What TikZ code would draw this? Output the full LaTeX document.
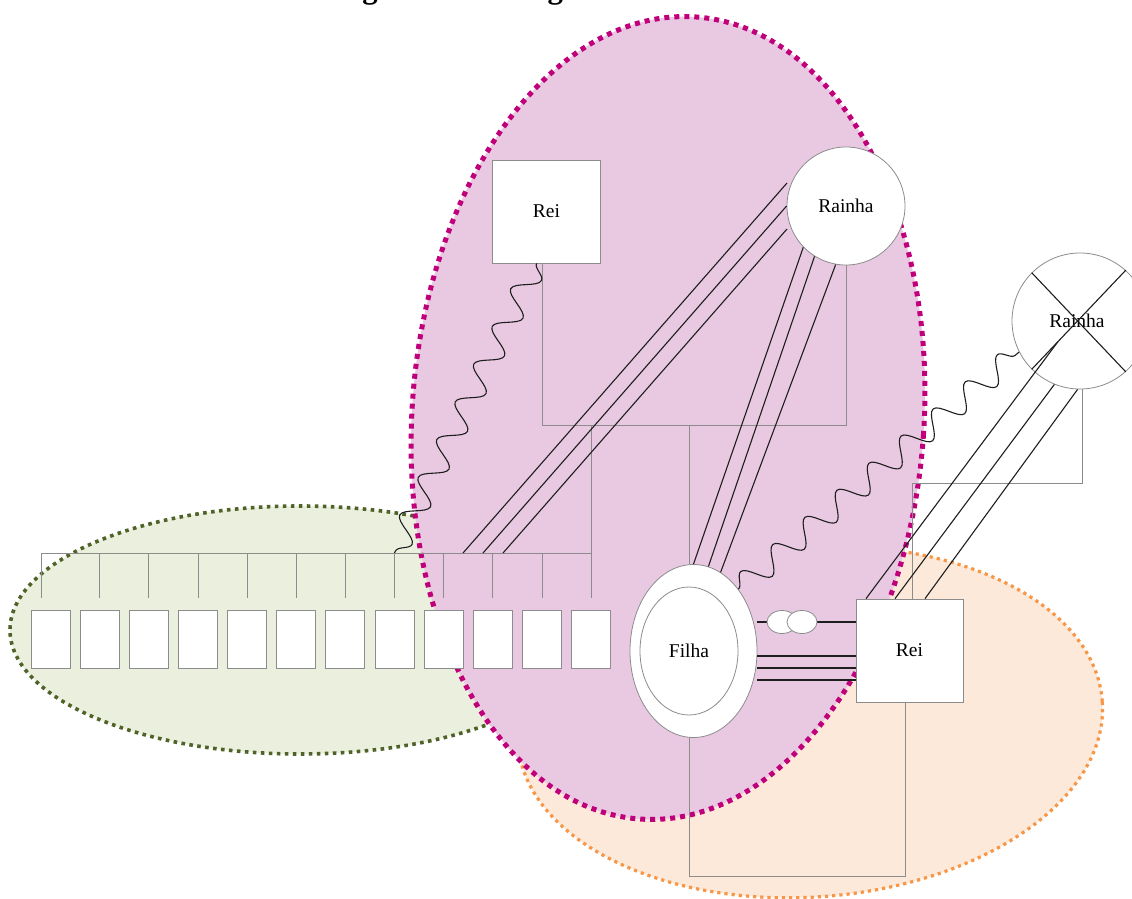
\documentclass[tikz,border=0pt]{standalone}
\usepackage{fontspec}
\setmainfont{Liberation Serif}
\usetikzlibrary{decorations.pathmorphing,shapes.geometric,calc}
\definecolor{pinkfill}{RGB}{232,201,225}
\definecolor{pinkline}{RGB}{192,0,122}
\definecolor{greenfill}{RGB}{235,240,222}
\definecolor{greenline}{RGB}{79,98,40}
\definecolor{orangefill}{RGB}{253,233,217}
\definecolor{orangeline}{RGB}{247,150,70}
\definecolor{linkgray}{RGB}{140,140,140}
\definecolor{tieblack}{RGB}{30,30,30}
\begin{document}
\begin{tikzpicture}[x=1pt,y=-1pt,
  lbl/.style={font=\fontsize{19.5}{23}\selectfont},
  malebox/.style={draw=linkgray, fill=white, line width=0.8pt, inner sep=0pt,
    minimum width=108pt, minimum height=103pt, lbl},
  femcircle/.style={draw=linkgray, fill=white, line width=0.8pt, circle,
    inner sep=0pt, minimum size=118pt, lbl},
  kidbox/.style={draw=linkgray, fill=white, line width=0.8pt, inner sep=0pt,
    minimum width=39pt, minimum height=58pt},
  twin/.style={draw=linkgray, fill=white, line width=0.8pt, ellipse,
    inner sep=0pt, minimum width=30pt, minimum height=23pt},
  kin/.style={draw=linkgray, line width=0.8pt},
  tie/.style={draw=tieblack, line width=1.1pt},
  conflict/.style={draw=tieblack, line width=1.1pt, decorate,
    decoration={snake, segment length=42pt, amplitude=12pt}},
  zone/.style={line cap=butt},
]
\useasboundingbox (0,0) rectangle (1132,899);

% heading line of the page
\node[anchor=base west, inner sep=0pt, font=\bfseries\fontsize{30.7}{34}\selectfont]
  (heading) at (335,-1) {Figura 1 – Genograma};

% family zones
\path[zone, fill=orangefill, draw=orangeline, line width=3.2pt,
  dash pattern=on 3.2pt off 4pt, rotate around={4:(810,722)}]
  (810,722) ellipse [x radius=293pt, y radius=175pt];
\path[zone, fill=greenfill, draw=greenline, line width=3.6pt,
  dash pattern=on 3.6pt off 4.4pt]
  (300,630) ellipse [x radius=290pt, y radius=124pt];
\path[zone, fill=pinkfill, draw=pinkline, line width=5pt,
  dash pattern=on 5pt off 5pt, rotate around={-4:(668,418)}]
  (668,418) ellipse [x radius=256pt, y radius=402pt];

% people
\node[malebox] (reiA) at (546.5,211.5) {Rei};
\node[femcircle] (rainhaA) at (846,206) {Rainha};
\node[femcircle, minimum size=136pt] (rainhaB) at (1080,321) {\kern-6pt Rainha};
\node[malebox, minimum width=107pt] (reiB) at (909.5,650.5) {Rei};
\node[ellipse, draw=linkgray, fill=white, line width=0.8pt, inner sep=0pt,
  minimum width=127pt, minimum height=173pt] (filha) at (693.5,651) {};
\node[ellipse, draw=linkgray, fill=white, line width=0.8pt, inner sep=0pt,
  minimum width=98pt, minimum height=128pt, lbl] (filhaIn) at (689,651) {Filha};
\foreach \i in {1,...,12}
  \node[kidbox] (s\i) at ({50.5+49.14*(\i-1)},639) {};

% deceased mark
\draw[tie] (rainhaB.135) -- (rainhaB.-48);
\draw[tie] (rainhaB.48) -- (rainhaB.-135);

% first couple and its children
\coordinate (mA) at (542,425);
\coordinate (sb) at (41,553);
\draw[kin] (reiA.south -| mA) -- (mA) -| (rainhaA.south);
\draw[kin] (filhaIn.north |- mA) -- (filha.north -| filhaIn.north);
\draw[kin] (s12.north |- mA) -- (s12.north |- sb);
\draw[kin] (sb) -- (sb -| s12.north);
\draw[kin] (sb) -- ([yshift=12pt]s1.north -| sb);
\foreach \i in {2,...,12}
  \draw[kin] (s\i.north |- sb) -- ([yshift=12pt]s\i.north);

% second couple
\coordinate (kB) at (912,483);
\coordinate (kF) at (689,876);
\draw[kin] (rainhaB.-88) |- (kB) -- (kB |- reiB.north);
\draw[kin] (filhaIn.north |- filha.south) -- (kF) -| ([xshift=-4.5pt]reiB.south);

% close bonds
\coordinate (t1) at (463,553);
\coordinate (t2) at (483,553);
\coordinate (t3) at (503,553);
\draw[tie] (787,183) -- (t1);
\draw[tie] (rainhaA.west) -- (t2);
\draw[tie] (787,229) -- (t3);
\draw[tie] (rainhaA.-136) -- (filha.90);
\draw[tie] (rainhaA.-122) -- (filha.80);
\draw[tie] (rainhaA.-100) -- (filha.71);
\draw[tie] ($(rainhaB.48)!0.72!(rainhaB.-135)$) -- ([xshift=-43.5pt]reiB.north);
\draw[tie] (rainhaB.-112) -- ([xshift=-14.5pt]reiB.north);
\draw[tie] (rainhaB.-92) -- ([xshift=15.5pt]reiB.north);
\draw[tie] ([yshift=29pt]filha.east) -- ([yshift=29pt]filha.east -| reiB.west);
\draw[tie] ([yshift=-5pt]filha.east) -- ([yshift=-5pt]filha.east -| reiB.west);
\draw[tie] ([yshift=-17pt]filha.east) -- ([yshift=-17pt]filha.east -| reiB.west);
\draw[tie] ([yshift=-29pt]filha.east) -- ([yshift=-29pt]filha.east -| reiB.west);
\node[twin] (tw1) at (782,622) {};
\node[twin] (tw2) at (802,622) {};

% conflicts
\draw[conflict] ([xshift=-10pt]reiA.south) -- (sb -| s8.north);
\draw[conflict] (filha.54) -- (rainhaB.-153);
\end{tikzpicture}
\end{document}
